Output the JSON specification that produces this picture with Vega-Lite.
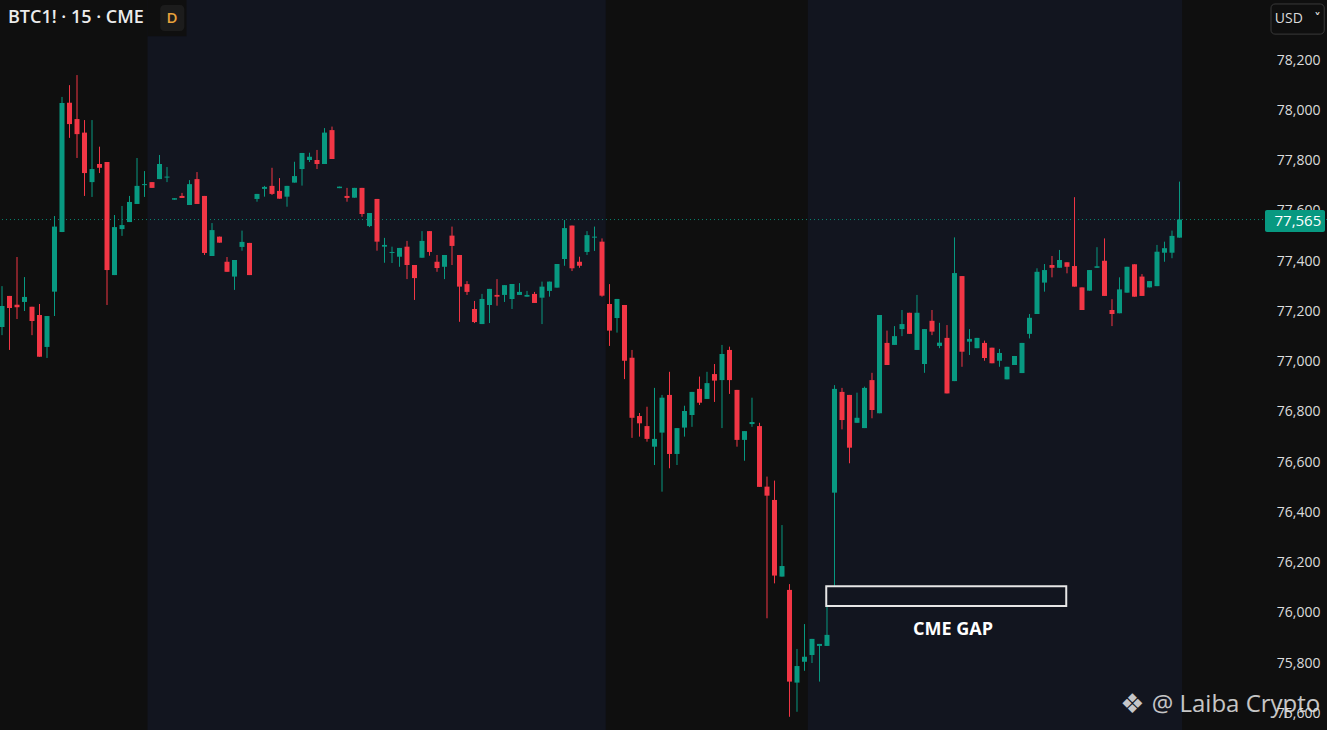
{
  "$schema": "https://vega.github.io/schema/vega-lite/v6.json",
  "width": 1327,
  "height": 730,
  "autosize": {"type": "none"},
  "padding": 0,
  "background": "#0f0f0f",
  "config": {
    "view": {"stroke": null},
    "font": "Open Sans",
    "text": {"font": "Open Sans"},
    "scale": {"continuousPadding": 0}
  },
  "datasets": {
    "candles": [
      {"i":0,"o":77137,"h":77300,"l":77105,"c":77221},
      {"i":1,"o":77261,"h":77261,"l":77046,"c":77213},
      {"i":2,"o":77226,"h":77416,"l":77169,"c":77216},
      {"i":3,"o":77237,"h":77336,"l":77201,"c":77257},
      {"i":4,"o":77218,"h":77218,"l":77105,"c":77161},
      {"i":5,"o":77185,"h":77229,"l":77019,"c":77019},
      {"i":6,"o":77058,"h":77181,"l":77014,"c":77181},
      {"i":7,"o":77278,"h":77579,"l":77181,"c":77537},
      {"i":8,"o":77515,"h":78053,"l":77515,"c":78029},
      {"i":9,"o":78030,"h":78100,"l":77890,"c":77945},
      {"i":10,"o":77965,"h":78140,"l":77810,"c":77905},
      {"i":11,"o":77911,"h":77961,"l":77659,"c":77750},
      {"i":12,"o":77714,"h":77961,"l":77655,"c":77766},
      {"i":13,"o":77786,"h":77855,"l":77750,"c":77771},
      {"i":14,"o":77794,"h":77794,"l":77225,"c":77364},
      {"i":15,"o":77344,"h":77583,"l":77344,"c":77535},
      {"i":16,"o":77527,"h":77619,"l":77500,"c":77543},
      {"i":17,"o":77555,"h":77659,"l":77555,"c":77635},
      {"i":18,"o":77627,"h":77810,"l":77627,"c":77699},
      {"i":19,"o":77702,"h":77758,"l":77655,"c":77706},
      {"i":20,"o":77714,"h":77714,"l":77691,"c":77691},
      {"i":21,"o":77726,"h":77822,"l":77726,"c":77786},
      {"i":22,"o":77732,"h":77774,"l":77714,"c":77736},
      {"i":23,"o":77644,"h":77650,"l":77644,"c":77650},
      {"i":24,"o":77659,"h":77671,"l":77651,"c":77651},
      {"i":25,"o":77623,"h":77722,"l":77623,"c":77706},
      {"i":26,"o":77726,"h":77754,"l":77627,"c":77627},
      {"i":27,"o":77659,"h":77659,"l":77424,"c":77432},
      {"i":28,"o":77420,"h":77551,"l":77420,"c":77523},
      {"i":29,"o":77497,"h":77497,"l":77473,"c":77473},
      {"i":30,"o":77397,"h":77416,"l":77357,"c":77357},
      {"i":31,"o":77338,"h":77404,"l":77285,"c":77404},
      {"i":32,"o":77456,"h":77521,"l":77441,"c":77476},
      {"i":33,"o":77472,"h":77472,"l":77344,"c":77344},
      {"i":34,"o":77647,"h":77667,"l":77636,"c":77667},
      {"i":35,"o":77687,"h":77699,"l":77656,"c":77695},
      {"i":36,"o":77699,"h":77771,"l":77663,"c":77667},
      {"i":37,"o":77679,"h":77730,"l":77648,"c":77648},
      {"i":38,"o":77656,"h":77699,"l":77616,"c":77699},
      {"i":39,"o":77712,"h":77795,"l":77712,"c":77738},
      {"i":40,"o":77766,"h":77830,"l":77700,"c":77830},
      {"i":41,"o":77802,"h":77831,"l":77794,"c":77815},
      {"i":42,"o":77802,"h":77842,"l":77766,"c":77786},
      {"i":43,"o":77786,"h":77929,"l":77786,"c":77911},
      {"i":44,"o":77921,"h":77935,"l":77806,"c":77806},
      {"i":45,"o":77690,"h":77696,"l":77690,"c":77696},
      {"i":46,"o":77659,"h":77691,"l":77636,"c":77651},
      {"i":47,"o":77652,"h":77691,"l":77652,"c":77691},
      {"i":48,"o":77691,"h":77691,"l":77576,"c":77587},
      {"i":49,"o":77539,"h":77591,"l":77535,"c":77591},
      {"i":50,"o":77647,"h":77647,"l":77441,"c":77477},
      {"i":51,"o":77457,"h":77492,"l":77393,"c":77464},
      {"i":52,"o":77432,"h":77457,"l":77392,"c":77436},
      {"i":53,"o":77417,"h":77452,"l":77377,"c":77452},
      {"i":54,"o":77457,"h":77480,"l":77328,"c":77384},
      {"i":55,"o":77384,"h":77384,"l":77245,"c":77332},
      {"i":56,"o":77413,"h":77519,"l":77413,"c":77480},
      {"i":57,"o":77519,"h":77519,"l":77421,"c":77436},
      {"i":58,"o":77397,"h":77424,"l":77357,"c":77372},
      {"i":59,"o":77377,"h":77424,"l":77328,"c":77424},
      {"i":60,"o":77501,"h":77537,"l":77384,"c":77460},
      {"i":61,"o":77424,"h":77424,"l":77158,"c":77298},
      {"i":62,"o":77308,"h":77320,"l":77265,"c":77277},
      {"i":63,"o":77209,"h":77241,"l":77153,"c":77157},
      {"i":64,"o":77149,"h":77269,"l":77149,"c":77249},
      {"i":65,"o":77225,"h":77289,"l":77153,"c":77289},
      {"i":66,"o":77265,"h":77328,"l":77222,"c":77258},
      {"i":67,"o":77265,"h":77304,"l":77237,"c":77304},
      {"i":68,"o":77249,"h":77308,"l":77209,"c":77308},
      {"i":69,"o":77265,"h":77312,"l":77265,"c":77277},
      {"i":70,"o":77258,"h":77281,"l":77258,"c":77265},
      {"i":71,"o":77269,"h":77277,"l":77233,"c":77233},
      {"i":72,"o":77254,"h":77318,"l":77149,"c":77298},
      {"i":73,"o":77281,"h":77318,"l":77258,"c":77318},
      {"i":74,"o":77294,"h":77388,"l":77294,"c":77388},
      {"i":75,"o":77408,"h":77563,"l":77381,"c":77531},
      {"i":76,"o":77541,"h":77541,"l":77360,"c":77371},
      {"i":77,"o":77397,"h":77417,"l":77373,"c":77381},
      {"i":78,"o":77436,"h":77519,"l":77424,"c":77503},
      {"i":79,"o":77493,"h":77537,"l":77440,"c":77497},
      {"i":80,"o":77477,"h":77490,"l":77258,"c":77262},
      {"i":81,"o":77229,"h":77308,"l":77062,"c":77123},
      {"i":82,"o":77173,"h":77249,"l":77115,"c":77249},
      {"i":83,"o":77225,"h":77225,"l":76930,"c":77003},
      {"i":84,"o":77015,"h":77046,"l":76696,"c":76776},
      {"i":85,"o":76783,"h":76795,"l":76701,"c":76754},
      {"i":86,"o":76743,"h":76820,"l":76681,"c":76692},
      {"i":87,"o":76661,"h":76895,"l":76588,"c":76692},
      {"i":88,"o":76717,"h":76867,"l":76482,"c":76856},
      {"i":89,"o":76867,"h":76959,"l":76575,"c":76632},
      {"i":90,"o":76632,"h":76735,"l":76588,"c":76735},
      {"i":91,"o":76737,"h":76824,"l":76701,"c":76803},
      {"i":92,"o":76787,"h":76879,"l":76740,"c":76879},
      {"i":93,"o":76891,"h":76940,"l":76827,"c":76836},
      {"i":94,"o":76851,"h":76959,"l":76851,"c":76914},
      {"i":95,"o":76950,"h":76990,"l":76839,"c":76924},
      {"i":96,"o":76926,"h":77066,"l":76735,"c":77030},
      {"i":97,"o":77046,"h":77059,"l":76871,"c":76926},
      {"i":98,"o":76887,"h":76887,"l":76661,"c":76688},
      {"i":99,"o":76688,"h":76723,"l":76605,"c":76723},
      {"i":100,"o":76751,"h":76856,"l":76740,"c":76759},
      {"i":101,"o":76743,"h":76756,"l":76501,"c":76501},
      {"i":102,"o":76502,"h":76542,"l":75978,"c":76466},
      {"i":103,"o":76449,"h":76526,"l":76117,"c":76148},
      {"i":104,"o":76144,"h":76349,"l":76144,"c":76186},
      {"i":105,"o":76091,"h":76114,"l":75586,"c":75726},
      {"i":106,"o":75722,"h":75856,"l":75606,"c":75788},
      {"i":107,"o":75805,"h":75955,"l":75769,"c":75825},
      {"i":108,"o":75832,"h":75896,"l":75800,"c":75896},
      {"i":109,"o":75868,"h":75876,"l":75726,"c":75876},
      {"i":110,"o":75868,"h":76027,"l":75868,"c":75912},
      {"i":111,"o":76478,"h":76906,"l":76107,"c":76891},
      {"i":112,"o":76879,"h":76895,"l":76730,"c":76767},
      {"i":113,"o":76867,"h":76867,"l":76595,"c":76657},
      {"i":114,"o":76756,"h":76876,"l":76756,"c":76776},
      {"i":115,"o":76735,"h":76900,"l":76735,"c":76895},
      {"i":116,"o":76926,"h":76955,"l":76774,"c":76807},
      {"i":117,"o":76794,"h":77185,"l":76794,"c":77185},
      {"i":118,"o":77074,"h":77123,"l":76986,"c":76986},
      {"i":119,"o":77066,"h":77141,"l":77066,"c":77101},
      {"i":120,"o":77129,"h":77205,"l":77101,"c":77149},
      {"i":121,"o":77194,"h":77194,"l":77110,"c":77110},
      {"i":122,"o":77046,"h":77265,"l":77046,"c":77194},
      {"i":123,"o":76990,"h":77129,"l":76955,"c":77129},
      {"i":124,"o":77162,"h":77205,"l":77105,"c":77119},
      {"i":125,"o":77062,"h":77154,"l":77053,"c":77075},
      {"i":126,"o":77094,"h":77145,"l":76873,"c":76873},
      {"i":127,"o":76922,"h":77494,"l":76922,"c":77352},
      {"i":128,"o":77340,"h":77340,"l":76979,"c":77039},
      {"i":129,"o":77079,"h":77129,"l":77026,"c":77090},
      {"i":130,"o":77053,"h":77094,"l":77053,"c":77094},
      {"i":131,"o":77074,"h":77083,"l":77003,"c":77014},
      {"i":132,"o":77055,"h":77055,"l":76993,"c":76993},
      {"i":133,"o":77003,"h":77050,"l":76979,"c":77034},
      {"i":134,"o":76929,"h":76979,"l":76929,"c":76979},
      {"i":135,"o":76986,"h":77022,"l":76986,"c":77022},
      {"i":136,"o":76954,"h":77074,"l":76954,"c":77074},
      {"i":137,"o":77110,"h":77189,"l":77092,"c":77174},
      {"i":138,"o":77189,"h":77371,"l":77189,"c":77357},
      {"i":139,"o":77314,"h":77388,"l":77278,"c":77364},
      {"i":140,"o":77384,"h":77420,"l":77335,"c":77373},
      {"i":141,"o":77373,"h":77444,"l":77373,"c":77404},
      {"i":142,"o":77395,"h":77395,"l":77351,"c":77377},
      {"i":143,"o":77380,"h":77654,"l":77298,"c":77298},
      {"i":144,"o":77295,"h":77295,"l":77205,"c":77205},
      {"i":145,"o":77282,"h":77364,"l":77282,"c":77364},
      {"i":146,"o":77373,"h":77455,"l":77373,"c":77379},
      {"i":147,"o":77401,"h":77490,"l":77261,"c":77261},
      {"i":148,"o":77205,"h":77248,"l":77141,"c":77189},
      {"i":149,"o":77192,"h":77335,"l":77192,"c":77287},
      {"i":150,"o":77274,"h":77377,"l":77274,"c":77377},
      {"i":151,"o":77387,"h":77387,"l":77258,"c":77258},
      {"i":152,"o":77338,"h":77348,"l":77261,"c":77261},
      {"i":153,"o":77295,"h":77320,"l":77295,"c":77320},
      {"i":154,"o":77300,"h":77464,"l":77300,"c":77437},
      {"i":155,"o":77433,"h":77477,"l":77397,"c":77451},
      {"i":156,"o":77433,"h":77521,"l":77411,"c":77500},
      {"i":157,"o":77493,"h":77716,"l":77493,"c":77565}
    ],
    "sessions": [
      {"start": 19.4, "end": 80.5},
      {"start": 107.45, "end": 157.35}
    ]
  },
  "resolve": {"axis": {"y": "independent", "x": "independent"}},
  "layer": [
    {
      "data": {"name": "sessions"},
      "mark": {"type": "rect", "color": "#12151f"},
      "encoding": {
        "x": {"field": "start", "type": "quantitative", "scale": {"domain": [-0.267, 176.667], "nice": false, "zero": false, "padding": 0}, "axis": null},
        "x2": {"field": "end"}
      }
    },
    {
      "data": {"values": [{"x1": 19.4, "x2": 24.6, "y1": 78295, "y2": 78439}]},
      "mark": {"type": "rect", "color": "#0f0f0f"},
      "encoding": {
        "x": {"field": "x1", "type": "quantitative", "scale": {"domain": [-0.267, 176.667], "nice": false, "zero": false, "padding": 0}, "axis": null},
        "x2": {"field": "x2"},
        "y": {"field": "y1", "type": "quantitative", "scale": {"domain": [75533.4, 78438.8], "nice": false, "zero": false, "padding": 0}, "axis": null},
        "y2": {"field": "y2"}
      }
    },
    {
      "data": {"values": [{"x1": 21.1, "x2": 24.3, "y1": 78315, "y2": 78419}]},
      "mark": {"type": "rect", "color": "#1c1c1c", "cornerRadius": 4},
      "encoding": {
        "x": {"field": "x1", "type": "quantitative", "scale": {"domain": [-0.267, 176.667], "nice": false, "zero": false, "padding": 0}, "axis": null},
        "x2": {"field": "x2"},
        "y": {"field": "y1", "type": "quantitative", "scale": {"domain": [75533.4, 78438.8], "nice": false, "zero": false, "padding": 0}, "axis": null},
        "y2": {"field": "y2"}
      }
    },
    {
      "data": {"values": [{"price": 77565}]},
      "mark": {"type": "rule", "color": "#089981", "strokeDash": [1, 3], "strokeWidth": 1, "opacity": 0.85},
      "encoding": {
        "y": {"field": "price", "type": "quantitative", "scale": {"domain": [75533.4, 78438.8], "nice": false, "zero": false, "padding": 0}, "axis": null}
      }
    },
    {
      "data": {"name": "candles"},
      "mark": {"type": "rule", "strokeWidth": 1},
      "encoding": {
        "x": {"field": "i", "type": "quantitative", "scale": {"domain": [-0.267, 176.667], "nice": false, "zero": false, "padding": 0}, "axis": null},
        "y": {
          "field": "l", "type": "quantitative",
          "scale": {"domain": [75533.4, 78438.8], "nice": false, "zero": false, "padding": 0},
          "axis": {
            "orient": "right", "offset": -7, "title": null,
            "values": [75600, 75800, 76000, 76200, 76400, 76600, 76800, 77000, 77200, 77400, 77600, 77800, 78000, 78200],
            "format": ",d", "labelAlign": "right", "labelBaseline": "middle", "labelPadding": 0,
            "ticks": false, "domain": false, "grid": false, "labelOverlap": false, "labelBound": false, "labelFlush": false,
            "labelFontSize": 14, "labelColor": "#dcdcdc", "labelFont": "Open Sans"
          }
        },
        "y2": {"field": "h"},
        "color": {"condition": {"test": "datum.c >= datum.o", "value": "#089981"}, "value": "#f23645"}
      }
    },
    {
      "data": {"name": "candles"},
      "mark": {"type": "bar", "width": 5, "orient": "vertical"},
      "encoding": {
        "x": {"field": "i", "type": "quantitative", "scale": {"domain": [-0.267, 176.667], "nice": false, "zero": false, "padding": 0}, "axis": null},
        "y": {"field": "o", "type": "quantitative", "scale": {"domain": [75533.4, 78438.8], "nice": false, "zero": false, "padding": 0}, "axis": null},
        "y2": {"field": "c"},
        "color": {"condition": {"test": "datum.c >= datum.o", "value": "#089981"}, "value": "#f23645"}
      }
    },
    {
      "data": {"values": [{"x1": 109.9, "x2": 141.9, "y1": 76027, "y2": 76106}]},
      "mark": {"type": "rect", "fill": null, "fillOpacity": 0, "stroke": "#e6e6e6", "strokeWidth": 2},
      "encoding": {
        "x": {"field": "x1", "type": "quantitative", "scale": {"domain": [-0.267, 176.667], "nice": false, "zero": false, "padding": 0}, "axis": null},
        "x2": {"field": "x2"},
        "y": {"field": "y1", "type": "quantitative", "scale": {"domain": [75533.4, 78438.8], "nice": false, "zero": false, "padding": 0}, "axis": null},
        "y2": {"field": "y2"}
      }
    },
    {
      "data": {"values": [{"x": 126.8, "y": 75931, "label": "CME GAP"}]},
      "mark": {"type": "text", "fontSize": 18, "fontWeight": "bold", "color": "#ffffff", "align": "center", "baseline": "middle"},
      "encoding": {
        "x": {"field": "x", "type": "quantitative", "scale": {"domain": [-0.267, 176.667], "nice": false, "zero": false, "padding": 0}, "axis": null},
        "y": {"field": "y", "type": "quantitative", "scale": {"domain": [75533.4, 78438.8], "nice": false, "zero": false, "padding": 0}, "axis": null},
        "text": {"field": "label"}
      }
    },
    {
      "data": {"values": [{"x1": 168.4, "x2": 176.4, "y1": 77515, "y2": 77603}]},
      "mark": {"type": "rect", "color": "#089981", "cornerRadius": 2},
      "encoding": {
        "x": {"field": "x1", "type": "quantitative", "scale": {"domain": [-0.267, 176.667], "nice": false, "zero": false, "padding": 0}, "axis": null},
        "x2": {"field": "x2"},
        "y": {"field": "y1", "type": "quantitative", "scale": {"domain": [75533.4, 78438.8], "nice": false, "zero": false, "padding": 0}, "axis": null},
        "y2": {"field": "y2"}
      }
    },
    {
      "data": {"values": [{"x": 175.9, "y": 77561, "label": "77,565"}]},
      "mark": {"type": "text", "fontSize": 15, "color": "#ffffff", "align": "right", "baseline": "middle"},
      "encoding": {
        "x": {"field": "x", "type": "quantitative", "scale": {"domain": [-0.267, 176.667], "nice": false, "zero": false, "padding": 0}, "axis": null},
        "y": {"field": "y", "type": "quantitative", "scale": {"domain": [75533.4, 78438.8], "nice": false, "zero": false, "padding": 0}, "axis": null},
        "text": {"field": "label"}
      }
    },
    {
      "data": {"values": [{"x1": 169.2, "x2": 176.3, "y1": 78303, "y2": 78423}]},
      "mark": {"type": "rect", "fill": "#0f0f0f", "stroke": "#3a3a3a", "strokeWidth": 1, "cornerRadius": 4},
      "encoding": {
        "x": {"field": "x1", "type": "quantitative", "scale": {"domain": [-0.267, 176.667], "nice": false, "zero": false, "padding": 0}, "axis": null},
        "x2": {"field": "x2"},
        "y": {"field": "y1", "type": "quantitative", "scale": {"domain": [75533.4, 78438.8], "nice": false, "zero": false, "padding": 0}, "axis": null},
        "y2": {"field": "y2"}
      }
    },
    {
      "data": {"values": [{"x": 169.7, "y": 78363, "label": "USD"}]},
      "mark": {"type": "text", "fontSize": 14, "color": "#dcdcdc", "align": "left", "baseline": "middle"},
      "encoding": {
        "x": {"field": "x", "type": "quantitative", "scale": {"domain": [-0.267, 176.667], "nice": false, "zero": false, "padding": 0}, "axis": null},
        "y": {"field": "y", "type": "quantitative", "scale": {"domain": [75533.4, 78438.8], "nice": false, "zero": false, "padding": 0}, "axis": null},
        "text": {"field": "label"}
      }
    },
    {
      "data": {"values": [{"x": 175.4, "y": 78366, "label": "˅"}]},
      "mark": {"type": "text", "fontSize": 13, "fontWeight": "bold", "font": "DejaVu Sans", "color": "#dcdcdc", "align": "center", "baseline": "middle"},
      "encoding": {
        "x": {"field": "x", "type": "quantitative", "scale": {"domain": [-0.267, 176.667], "nice": false, "zero": false, "padding": 0}, "axis": null},
        "y": {"field": "y", "type": "quantitative", "scale": {"domain": [75533.4, 78438.8], "nice": false, "zero": false, "padding": 0}, "axis": null},
        "text": {"field": "label"}
      }
    },
    {
      "data": {"values": [{"x": 0.8, "y": 78367, "label": "BTC1! · 15 · CME"}]},
      "mark": {"type": "text", "fontSize": 18, "fontWeight": 600, "color": "#ececec", "align": "left", "baseline": "middle"},
      "encoding": {
        "x": {"field": "x", "type": "quantitative", "scale": {"domain": [-0.267, 176.667], "nice": false, "zero": false, "padding": 0}, "axis": null},
        "y": {"field": "y", "type": "quantitative", "scale": {"domain": [75533.4, 78438.8], "nice": false, "zero": false, "padding": 0}, "axis": null},
        "text": {"field": "label"}
      }
    },
    {
      "data": {"values": [{"x": 22.67, "y": 78367, "label": "D"}]},
      "mark": {"type": "text", "fontSize": 15, "fontWeight": 600, "color": "#e9a23b", "align": "center", "baseline": "middle"},
      "encoding": {
        "x": {"field": "x", "type": "quantitative", "scale": {"domain": [-0.267, 176.667], "nice": false, "zero": false, "padding": 0}, "axis": null},
        "y": {"field": "y", "type": "quantitative", "scale": {"domain": [75533.4, 78438.8], "nice": false, "zero": false, "padding": 0}, "axis": null},
        "text": {"field": "label"}
      }
    },
    {
      "data": {"values": [{"x": 150.7, "y": 75633, "label": "❖"}]},
      "mark": {"type": "text", "fontSize": 27, "font": "DejaVu Sans", "color": "#e6e6e6", "opacity": 0.85, "align": "center", "baseline": "middle"},
      "encoding": {
        "x": {"field": "x", "type": "quantitative", "scale": {"domain": [-0.267, 176.667], "nice": false, "zero": false, "padding": 0}, "axis": null},
        "y": {"field": "y", "type": "quantitative", "scale": {"domain": [75533.4, 78438.8], "nice": false, "zero": false, "padding": 0}, "axis": null},
        "text": {"field": "label"}
      }
    },
    {
      "data": {"values": [{"x": 153.3, "y": 75633, "label": "@ Laiba Crypto"}]},
      "mark": {"type": "text", "fontSize": 24, "color": "#e6e6e6", "opacity": 0.85, "align": "left", "baseline": "middle"},
      "encoding": {
        "x": {"field": "x", "type": "quantitative", "scale": {"domain": [-0.267, 176.667], "nice": false, "zero": false, "padding": 0}, "axis": null},
        "y": {"field": "y", "type": "quantitative", "scale": {"domain": [75533.4, 78438.8], "nice": false, "zero": false, "padding": 0}, "axis": null},
        "text": {"field": "label"}
      }
    }
  ]
}
